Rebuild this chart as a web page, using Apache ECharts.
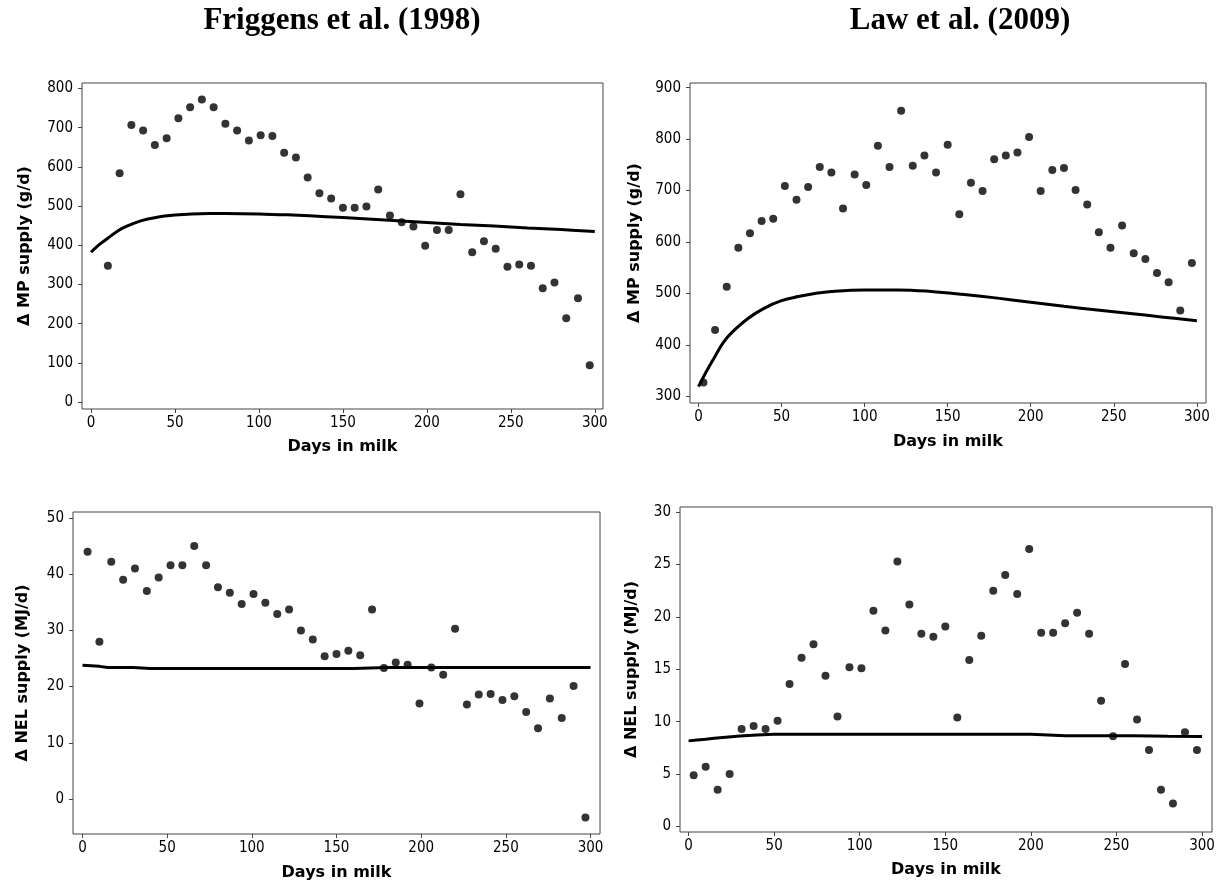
<!DOCTYPE html>
<html>
<head>
<meta charset="utf-8">
<script src="https://cdn.jsdelivr.net/npm/echarts@6/dist/echarts.min.js"></script>
<style>
  html, body { margin: 0; padding: 0; background: #fff; }
  #chart { width: 1218px; height: 886px; }
</style>
</head>
<body>
<div id="chart"></div>
<script>
// weekly test days (days in milk)
var days = [3, 10, 17, 24, 31, 38, 45, 52, 59, 66, 73, 80, 87, 94, 101, 108, 115, 122, 129, 136, 143, 150,
    157, 164, 171, 178, 185, 192, 199, 206, 213, 220, 227, 234, 241, 248, 255, 262, 269, 276, 283, 290, 297];
// Friggens MP has no point on day 3
var daysFriggensMp = [10, 17, 24, 31, 38, 45, 52, 59, 66, 73, 80, 87, 94, 101, 108, 115, 122, 129, 136, 143, 150,
    157, 164, 171, 178, 185, 192, 199, 206, 213, 220, 227, 234, 241, 248, 255, 262, 269, 276, 283, 290, 297];

var friggensMp = [348, 584, 707, 693, 656, 673, 724, 752, 772, 752, 710, 693, 667, 681, 679, 636, 624, 573, 533, 519,
    496, 496, 499, 542, 476, 459, 448, 399, 439, 439, 530, 382, 410, 391, 345, 351, 348, 290, 305, 214, 265, 94];
var lawMp = [327, 429, 513, 589, 617, 641, 645, 709, 682, 707, 746, 735, 665, 731, 711, 787, 746, 855, 748, 768, 735,
    789, 654, 715, 699, 761, 768, 774, 804, 699, 740, 744, 701, 673, 619, 589, 632, 578, 567, 540, 522, 467, 559];
var friggensNel = [44.0, 28.0, 42.2, 39.0, 41.0, 37.0, 39.4, 41.6, 41.6, 45.0, 41.6, 37.7, 36.7, 34.7, 36.5, 34.9, 32.9,
    33.7, 30.0, 28.4, 25.4, 25.8, 26.4, 25.6, 33.7, 23.3, 24.3, 23.9, 17.0, 23.4, 22.1, 30.3, 16.8, 18.6, 18.7, 17.6,
    18.3, 15.5, 12.6, 17.9, 14.4, 20.1, -3.3];
var lawNel = [4.9, 5.7, 3.5, 5.0, 9.3, 9.6, 9.3, 10.1, 13.6, 16.1, 17.4, 14.4, 10.5, 15.2, 15.1, 20.6, 18.7, 25.3, 21.2,
    18.4, 18.1, 19.1, 10.4, 15.9, 18.2, 22.5, 24.0, 22.2, 26.5, 18.5, 18.5, 19.4, 20.4, 18.4, 12.0, 8.6, 15.5, 10.2,
    7.3, 3.5, 2.2, 9.0, 7.3];

// fitted curves
var curveDays = [0, 5, 10, 15, 20, 30, 40, 50, 60, 70, 80, 100, 120, 140, 160, 180, 200, 220, 240, 260, 280, 300];
var friggensMpFit = [382, 402, 418, 434, 446, 463, 472, 477, 480, 481, 481, 480, 477, 473, 468, 463, 458, 453, 449, 444, 440, 435];
var lawMpFit = [319, 350, 378, 405, 424, 452, 472, 486, 494, 500, 504, 507, 507, 504, 498, 491, 483, 475, 468, 461, 454, 447];
var friggensNelFit = [23.8, 23.7, 23.6, 23.4, 23.4, 23.4, 23.2, 23.2, 23.2, 23.2, 23.2, 23.2, 23.2, 23.2, 23.2, 23.4, 23.4,
    23.4, 23.4, 23.4, 23.4, 23.4];
var lawNelFit = [8.17, 8.25, 8.33, 8.42, 8.5, 8.64, 8.72, 8.8, 8.8, 8.8, 8.8, 8.8, 8.8, 8.8, 8.8, 8.8, 8.8, 8.67, 8.67,
    8.67, 8.62, 8.58];

var xTicks = [0, 50, 100, 150, 200, 250, 300];
var mpTicksFriggens = [0, 100, 200, 300, 400, 500, 600, 700, 800];
var mpTicksLaw = [300, 400, 500, 600, 700, 800, 900];
var nelTicksFriggens = [0, 10, 20, 30, 40, 50];
var nelTicksLaw = [0, 5, 10, 15, 20, 25, 30];

var titles = ['Friggens et al. (1998)', 'Law et al. (2009)'];
var xName = 'Days in milk';
var mpName = 'Δ MP supply (g/d)';
var nelName = 'Δ NEL supply (MJ/d)';

function pairs(xs, ys) {
    return xs.map(function (x, i) { return [x, ys[i]]; });
}

var tickFont = "'DejaVu Sans Condensed', 'DejaVu Sans', sans-serif";
var nameFont = "'DejaVu Sans', sans-serif";
var frameColor = '#444';

var grids = [
    { left: 82, top: 83, width: 521, height: 326 },
    { left: 690, top: 83, width: 516, height: 320 },
    { left: 73, top: 512, width: 527, height: 322 },
    { left: 680, top: 507, width: 532, height: 325 }
];
var xRanges = [[-5.4, 304.9], [-5.1, 305.5], [-5.6, 305.6], [-5, 305.8]];
var yRanges = [[-17.8, 814], [287.2, 909], [-6.23, 51.07], [-0.53, 30.5]];
var yTicks = [mpTicksFriggens, mpTicksLaw, nelTicksFriggens, nelTicksLaw];
var yNames = [mpName, mpName, nelName, nelName];
var yNameGaps = [49, 47, 42, 40];
var xNameGaps = [30, 31, 31, 30];

var xAxes = [], yAxes = [];
grids.forEach(function (g, i) {
    g.show = true;
    g.borderColor = frameColor;
    g.borderWidth = 1;
    g.backgroundColor = 'transparent';
    xAxes.push({
        type: 'value', gridIndex: i, position: 'bottom',
        min: xRanges[i][0], max: xRanges[i][1],
        name: xName, nameLocation: 'middle', nameGap: xNameGaps[i],
        nameTextStyle: { fontFamily: nameFont, fontWeight: 'bold', fontSize: 16, color: '#000' },
        axisLine: { show: false, onZero: false },
        axisTick: { show: true, length: 4, customValues: xTicks, lineStyle: { color: frameColor } },
        axisLabel: { customValues: xTicks, margin: 7, fontFamily: tickFont, fontSize: 15, color: '#000' },
        splitLine: { show: false }
    });
    yAxes.push({
        type: 'value', gridIndex: i, position: 'left',
        min: yRanges[i][0], max: yRanges[i][1],
        name: yNames[i], nameLocation: 'middle', nameRotate: 90, nameGap: yNameGaps[i],
        nameTextStyle: { fontFamily: nameFont, fontWeight: 'bold', fontSize: 16, color: '#000' },
        axisLine: { show: false, onZero: false },
        axisTick: { show: true, length: 4, customValues: yTicks[i], lineStyle: { color: frameColor } },
        axisLabel: { customValues: yTicks[i], margin: 9, fontFamily: tickFont, fontSize: 15, color: '#000' },
        splitLine: { show: false }
    });
});

function fitLine(i, data, smooth) {
    return {
        type: 'line', xAxisIndex: i, yAxisIndex: i,
        data: data, smooth: smooth, showSymbol: false, silent: true,
        lineStyle: { color: '#000', width: 3 }
    };
}
function dots(i, data) {
    return {
        type: 'scatter', xAxisIndex: i, yAxisIndex: i,
        data: data, symbolSize: 8, z: 3,
        itemStyle: { color: '#000' }
    };
}

var option = {
    animation: false,
    grid: grids,
    xAxis: xAxes,
    yAxis: yAxes,
    graphic: [
        { type: 'text', x: 342, y: 21, style: { text: titles[0], textAlign: 'center', textVerticalAlign: 'middle',
            font: "bold 31px 'Liberation Serif', serif", fill: '#000' } },
        { type: 'text', x: 960, y: 21, style: { text: titles[1], textAlign: 'center', textVerticalAlign: 'middle',
            font: "bold 31px 'Liberation Serif', serif", fill: '#000' } }
    ],
    series: [
        fitLine(0, pairs(curveDays, friggensMpFit), 0.4),
        dots(0, pairs(daysFriggensMp, friggensMp)),
        fitLine(1, pairs(curveDays, lawMpFit), 0.4),
        dots(1, pairs(days, lawMp)),
        fitLine(2, pairs(curveDays, friggensNelFit), false),
        dots(2, pairs(days, friggensNel)),
        fitLine(3, pairs(curveDays, lawNelFit), false),
        dots(3, pairs(days, lawNel))
    ]
};

var myChart = echarts.init(document.getElementById('chart'));
myChart.setOption(option);
</script>
</body>
</html>
